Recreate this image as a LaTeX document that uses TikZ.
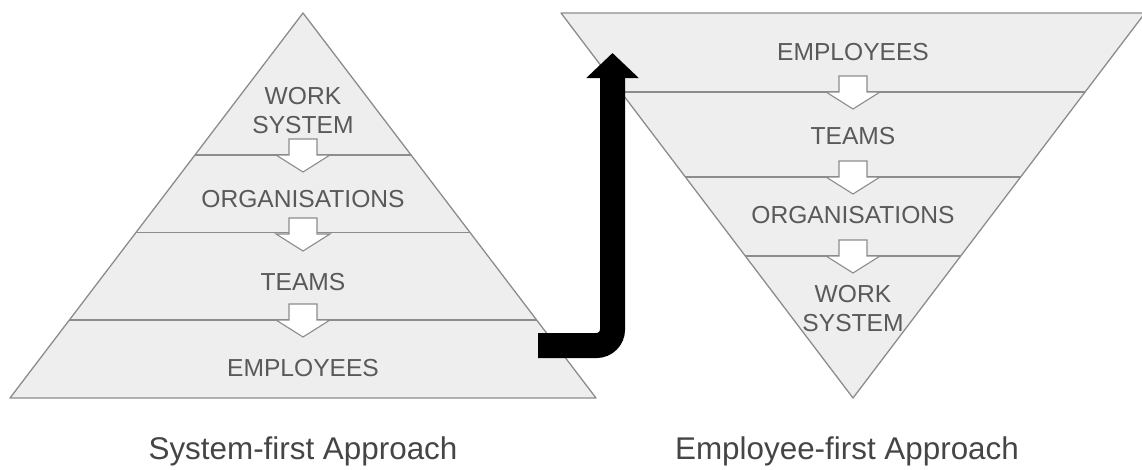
\documentclass[tikz,border=0pt]{standalone}
\usepackage{fontspec}
\setmainfont{Liberation Sans}
\usetikzlibrary{calc,arrows.meta}

\definecolor{paper}{HTML}{EEEEEE}
\definecolor{edge}{HTML}{8C8C8C}
\definecolor{ink}{HTML}{595959}
\definecolor{headink}{HTML}{454545}

\begin{document}
\begin{tikzpicture}[x=1pt,y=-1pt,
	layer/.style={fill=paper,draw=edge,line width=1.3pt,line join=round},
	cut/.style={draw=edge,line width=1.3pt},
	flow/.style={fill=white,draw=edge,line width=1.1pt,line join=miter},
	tier/.style={text=ink,font=\fontsize{24.6}{29}\selectfont,align=center,inner sep=0pt},
	heading/.style={text=headink,font=\fontsize{31.4}{36}\selectfont,inner sep=0pt},
	jump/.style={line width=25pt,rounded corners=16pt,
		-{Triangle[length=25pt 0 0,width=51pt 0 0]}}]

	\useasboundingbox (0,0) rectangle (1142,469);

	% corners of the two pyramids
	\coordinate (A) at (303,13);
	\coordinate (BL) at (10,398);
	\coordinate (BR) at (596,398);

	\coordinate (TL) at (561,13);
	\coordinate (TR) at (1145,13);
	\coordinate (V) at (853,398);

	% pyramids
	\draw[layer] (A)--(BR)--(BL)--cycle;
	\draw[layer] (TL)--(TR)--(V)--cycle;

	% layer boundaries
	\foreach \t in {0.369,0.571,0.797}
		\draw[cut] ($(A)!\t!(BL)$) -- ($(A)!\t!(BR)$);
	\foreach \t in {0.205,0.426,0.631}
		\draw[cut] ($(TL)!\t!(V)$) -- ($(TR)!\t!(V)$);

	% white block arrows between layers
	\foreach \x/\y in {303/155,303/234,303/320,853/92,853/177,853/256}
		\draw[flow] (\x-14,\y-16) -- (\x+14,\y-16) -- (\x+14,\y) -- (\x+27,\y)
			-- (\x,\y+17) -- (\x-27,\y) -- (\x-14,\y) -- cycle;

	% layer labels, system first
	\node[tier] (sws) at (303,111) {WORK\\SYSTEM};
	\node[tier] (sorg) at (303,199) {ORGANISATIONS};
	\node[tier] (steams) at (303,282) {TEAMS};
	\node[tier] (semp) at (303,368) {EMPLOYEES};

	% layer labels, employee first
	\node[tier] (eemp) at (853,52) {EMPLOYEES};
	\node[tier] (eteams) at (853,136) {TEAMS};
	\node[tier] (eorg) at (853,215) {ORGANISATIONS};
	\node[tier] (ews) at (853,309) {WORK\\SYSTEM};

	% titles
	\node[heading] (stitle) at (303,451) {System-first Approach};
	\node[heading] (etitle) at (847,451) {Employee-first Approach};

	% the turn-around
	\coordinate (from) at (538,345.5);
	\coordinate (to) at (612.5,53);
	\draw[jump] (from) -| (to);
\end{tikzpicture}
\end{document}
